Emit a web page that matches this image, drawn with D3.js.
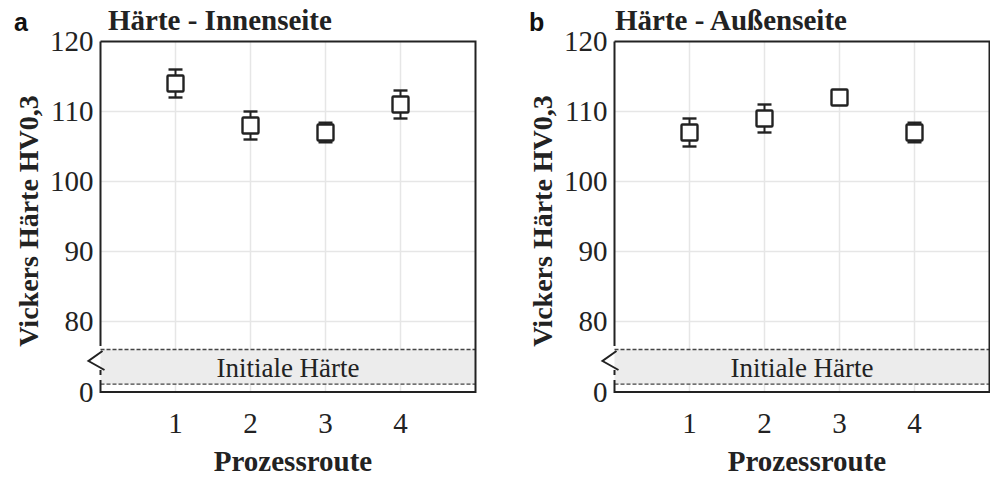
<!DOCTYPE html>
<html>
<head>
<meta charset="utf-8">
<script src="https://cdn.jsdelivr.net/npm/d3@7"></script>
<style>
  html, body { margin: 0; padding: 0; background: #fff; }
  svg { display: block; }
</style>
</head>
<body>
<svg id="chart" width="990" height="480"></svg>
<script>
// Process routes on the x axis
const routes = [1, 2, 3, 4];

// Mean Vickers hardness (HV0.3) and standard deviation per route
const innerMean = [114, 108, 107, 111];
const innerSd   = [2, 2, 1.4, 2];
const outerMean = [107, 109, 112, 107];
const outerSd   = [2, 2, 1, 1.4];

// Axis ticks (upper segment + zero below the break)
const yTicks = [0, 80, 90, 100, 110, 120];
const yGrid  = [80, 90, 100, 110];
const xTicks = [1, 2, 3, 4];

// Broken axis: values 0..76 are compressed below the break
const yBreak = 76;
// Band showing the initial hardness, in axis units
const initialBand = [14, 76];
const initialLabel = "Initiale Härte";

const panels = [
  { letter: "a", title: "Härte - Innenseite", mean: innerMean, sd: innerSd,
    left: 100.5, right: 475.5, letterX: 14, titleX: 108 },
  { letter: "b", title: "Härte - Außenseite", mean: outerMean, sd: outerSd,
    left: 614.5, right: 989.5, letterX: 529, titleX: 615 }
];

const plotTop = 41.5, plotBottom = 392;
const svg = d3.select("#chart");
const serif = "'Liberation Serif', 'Times New Roman', serif";

panels.forEach(p => {
  const g = svg.append("g");
  const x = d3.scaleLinear().domain([0, 5]).range([p.left, p.right]);
  const y = d3.scaleLinear().domain([0, yBreak, 120]).range([plotBottom, 349.5, plotTop]);

  // grid
  g.append("g").selectAll("line").data(xTicks).join("line")
    .attr("x1", d => x(d)).attr("x2", d => x(d))
    .attr("y1", plotTop).attr("y2", plotBottom)
    .attr("stroke", "#e6e6e6").attr("stroke-width", 1.5);
  g.append("g").selectAll("line").data(yGrid).join("line")
    .attr("x1", p.left).attr("x2", p.right)
    .attr("y1", d => y(d)).attr("y2", d => y(d))
    .attr("stroke", "#e6e6e6").attr("stroke-width", 1.5);

  // initial hardness band
  g.append("rect")
    .attr("x", p.left).attr("width", p.right - p.left)
    .attr("y", y(initialBand[1])).attr("height", y(initialBand[0]) - y(initialBand[1]))
    .attr("fill", "#ececec");
  initialBand.forEach(v => {
    g.append("line")
      .attr("x1", p.left).attr("x2", p.right)
      .attr("y1", y(v)).attr("y2", y(v))
      .attr("stroke", "#444").attr("stroke-width", 1.3)
      .attr("stroke-dasharray", "4,2");
  });
  g.append("text")
    .attr("x", (p.left + p.right) / 2).attr("y", 377)
    .attr("text-anchor", "middle")
    .attr("font-family", serif).attr("font-size", 27).attr("fill", "#222")
    .text(initialLabel);

  // frame: top, right, bottom
  g.append("path")
    .attr("d", `M${p.left},${plotTop} L${p.right},${plotTop} L${p.right},${plotBottom} L${p.left},${plotBottom}`)
    .attr("fill", "none").attr("stroke", "#222").attr("stroke-width", 2);

  // left axis with break mark
  const ax = p.left;
  g.append("line").attr("x1", ax).attr("x2", ax).attr("y1", plotTop).attr("y2", 346)
    .attr("stroke", "#222").attr("stroke-width", 2);
  g.append("path")
    .attr("d", `M${ax + 2},351 L${ax - 12},361 L${ax + 4},370`)
    .attr("fill", "none").attr("stroke", "#222").attr("stroke-width", 2);
  g.append("line").attr("x1", ax).attr("x2", ax).attr("y1", 370).attr("y2", 375)
    .attr("stroke", "#222").attr("stroke-width", 2);
  g.append("line").attr("x1", ax).attr("x2", ax).attr("y1", 380).attr("y2", plotBottom + 1)
    .attr("stroke", "#222").attr("stroke-width", 2);

  // y tick labels
  g.append("g").selectAll("text").data(yTicks).join("text")
    .attr("x", ax - 7).attr("y", d => y(d))
    .attr("dy", "0.34em")
    .attr("text-anchor", "end")
    .attr("font-family", serif).attr("font-size", 29).attr("fill", "#222")
    .text(d => d);

  // x tick labels
  g.append("g").selectAll("text").data(xTicks).join("text")
    .attr("x", d => x(d)).attr("y", 433)
    .attr("text-anchor", "middle")
    .attr("font-family", serif).attr("font-size", 29).attr("fill", "#222")
    .text(d => d);

  // axis titles
  g.append("text")
    .attr("x", (p.left + p.right) / 2 + 5).attr("y", 471)
    .attr("text-anchor", "middle")
    .attr("font-family", serif).attr("font-weight", "bold").attr("font-size", 29).attr("fill", "#222")
    .text("Prozessroute");
  g.append("text")
    .attr("transform", `translate(${p.left - 63},221) rotate(-90)`)
    .attr("text-anchor", "middle")
    .attr("font-family", serif).attr("font-weight", "bold").attr("font-size", 28).attr("fill", "#222")
    .text("Vickers Härte HV0,3");

  // panel letter and title
  g.append("text")
    .attr("x", p.letterX).attr("y", 31)
    .attr("font-family", "'Liberation Sans', Arial, sans-serif").attr("font-weight", "bold")
    .attr("font-size", 25).attr("fill", "#111")
    .text(p.letter);
  g.append("text")
    .attr("x", p.titleX).attr("y", 30)
    .attr("font-family", serif).attr("font-weight", "bold").attr("font-size", 29).attr("fill", "#222")
    .text(p.title);

  // error bars and square markers
  const pts = routes.map((r, i) => ({ r, m: p.mean[i], s: p.sd[i] }));
  const capW = 7;
  const eb = g.append("g").selectAll("g").data(pts).join("g");
  eb.append("line")
    .attr("x1", d => x(d.r)).attr("x2", d => x(d.r))
    .attr("y1", d => y(d.m + d.s)).attr("y2", d => y(d.m - d.s))
    .attr("stroke", "#222").attr("stroke-width", 2);
  [1, -1].forEach(sgn => {
    eb.append("line")
      .attr("x1", d => x(d.r) - capW).attr("x2", d => x(d.r) + capW)
      .attr("y1", d => y(d.m + sgn * d.s)).attr("y2", d => y(d.m + sgn * d.s))
      .attr("stroke", "#222").attr("stroke-width", 2.4);
  });
  const half = 8;
  eb.append("rect")
    .attr("x", d => x(d.r) - half).attr("y", d => y(d.m) - half)
    .attr("width", 2 * half).attr("height", 2 * half)
    .attr("rx", 1)
    .attr("fill", "#fff").attr("stroke", "#222").attr("stroke-width", 2.4);
});
</script>
</body>
</html>
